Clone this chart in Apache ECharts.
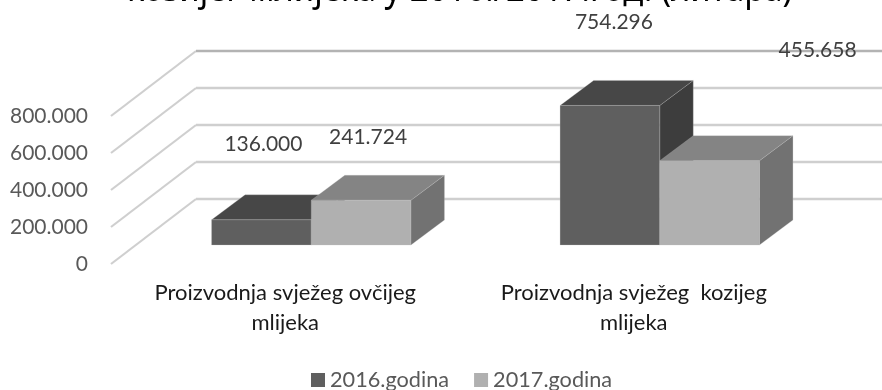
<!DOCTYPE html>
<html><head><meta charset="utf-8">
<style>html,body{margin:0;padding:0;background:#fff}#c{width:882px;height:390px}</style>
<script src="https://cdn.jsdelivr.net/npm/echarts@6/dist/echarts.min.js"></script>
</head><body><div id="c"></div>
<script>
const categories = ['Proizvodnja svježeg ovčijeg\nmlijeka', 'Proizvodnja svježeg  kozijeg\nmlijeka'];
const values2016 = [136000, 754296];
const values2017 = [241724, 455658];
const yTicks = [0, 200000, 400000, 600000, 800000];
const titleText = 'козијег млијека у 2016./2017.год. (литара)';
const labelFont = 'Lato, "Noto Sans", sans-serif';

const chart = echarts.init(document.getElementById('c'));

function barSeries(name, data, side, col, nudges) {
  return {
    type: 'custom', name, data: data.map((v, i) => [i, v]),
    encode: {x: 0, y: 1}, itemStyle: {color: col.front}, z: 3,
    renderItem(params, api) {
      const band = api.size([1, 0])[0], w = band * 0.286;
      const base = api.coord([api.value(0), 0]);
      const top = api.coord([api.value(0), api.value(1)]);
      const ox = 26, oy = -19, dx = 33.5, dy = -25;
      const x0 = base[0] + ox + (side < 0 ? -w : 0), x1 = x0 + w;
      const yb = base[1] + oy, yt = top[1] + oy;
      const edge = {stroke: 'rgba(190,190,190,0.25)', lineWidth: 1};
      const n = nudges[params.dataIndex];
      return {type: 'group', children: [
        {type: 'polygon', shape: {points: [[x1, yb], [x1 + dx, yb + dy], [x1 + dx, yt + dy], [x1, yt]]}, style: {fill: col.side, ...edge}},
        {type: 'polygon', shape: {points: [[x0, yt], [x1, yt], [x1 + dx, yt + dy], [x0 + dx, yt + dy]]}, style: {fill: col.top, ...edge}},
        {type: 'rect', shape: {x: x0, y: yt, width: w, height: yb - yt}, style: {fill: col.front, ...edge}},
        {type: 'text', z2: 10, style: {text: echarts.format.addCommas(api.value(1)).replace(/,/g, '.'),
          x: (x0 + x1) / 2 + n[0], y: yt + n[1], align: 'center', verticalAlign: 'middle',
          font: '21px ' + labelFont, fill: '#404040'}}
      ]};
    }
  };
}

chart.setOption({
  animation: false,
  backgroundColor: '#fff',
  graphic: [{type: 'text', x: 127, y: -9, scaleX: 0.913, scaleY: 1, silent: true,
    style: {text: titleText, font: '36px "Noto Sans", sans-serif', fill: '#000', align: 'left', verticalAlign: 'middle'}}],
  grid: {left: 111, top: 116, width: 697, height: 148},
  legend: {top: 364, left: 306, itemWidth: 14, itemHeight: 14, itemGap: 25,
    data: [{name: '2016.godina', icon: 'rect'}, {name: '2017.godina', icon: 'rect'}],
    textStyle: {fontFamily: labelFont, fontSize: 21.7, color: '#595959', padding: [0, 0, 0, 0]}},
  xAxis: {type: 'category', data: categories, axisLine: {show: false}, axisTick: {show: false},
    axisLabel: {margin: 14, interval: 0, lineHeight: 30, fontFamily: labelFont, fontSize: 22, color: '#1a1a1a'}},
  yAxis: {type: 'value', min: 0, max: 800000, interval: 200000, axisLine: {show: false}, axisTick: {show: false}, splitLine: {show: false},
    axisLabel: {margin: 23, fontFamily: labelFont, fontSize: 21, color: '#595959',
      formatter: v => echarts.format.addCommas(v).replace(/,/g, '.')}},
  series: [
    {type: 'custom', silent: true, data: yTicks.map(v => [0, v]), encode: {x: 0, y: 1}, z: 1,
      renderItem(params, api) {
        const y = api.coord([0, api.value(1)])[1], x = params.coordSys.x;
        const dark = api.value(1) === 800000;
        return {type: 'group', children: [
          {type: 'line', shape: {x1: x, y1: y, x2: x + 85, y2: y - 65}, style: {stroke: '#cfcfcf', lineWidth: 2.2}},
          {type: 'line', shape: {x1: x + 85, y1: y - 65, x2: 882, y2: y - 65}, style: {stroke: dark ? '#b3b3b3' : '#cfcfcf', lineWidth: 2.4}}
        ]};
      }},
    barSeries('2016.godina', values2016, -1, {front: '#5f5f5f', top: '#474747', side: '#3d3d3d'}, [[2, -76], [4, -83]]),
    barSeries('2017.godina', values2017, 1, {front: '#b0b0b0', top: '#848484', side: '#727272'}, [[7, -63], [108, -110]])
  ]
});
</script></body></html>
